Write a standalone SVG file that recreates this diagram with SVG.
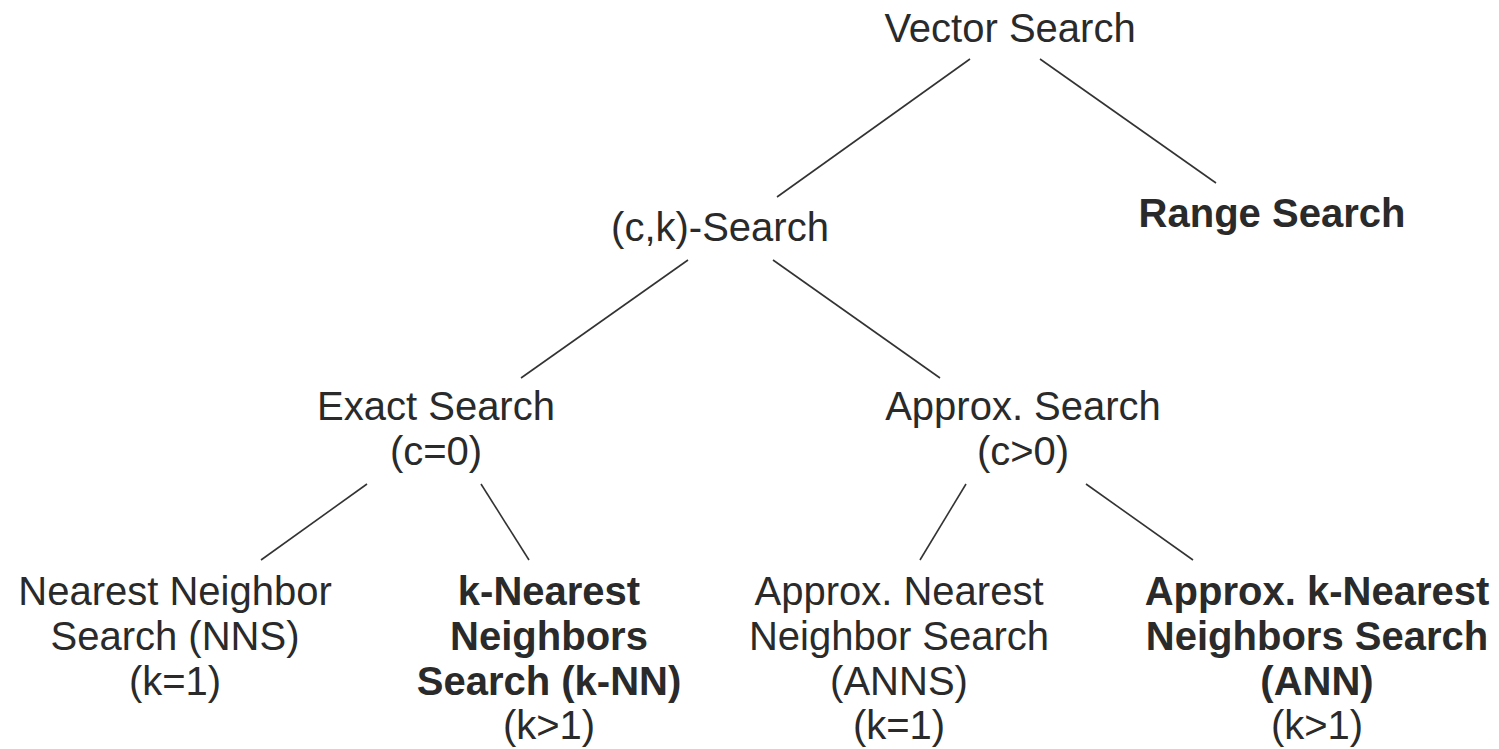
<svg xmlns="http://www.w3.org/2000/svg" width="1499" height="749" viewBox="0 0 1499 749">
<style>
text{font-family:"Liberation Sans",Arial,sans-serif;font-size:40px;fill:#2a2a2a;text-anchor:middle}
.b{font-weight:bold}
.c line{stroke:#333;stroke-width:1.6}
</style>
<rect width="1499" height="749" fill="#fff"/>
<g class="c" id="connectors">
<line x1="970" y1="59" x2="777" y2="197"/>
<line x1="1040" y1="59" x2="1216" y2="183"/>
<line x1="688" y1="260" x2="521" y2="378"/>
<line x1="773" y1="260" x2="940" y2="378"/>
<line x1="367" y1="484" x2="261" y2="560"/>
<line x1="481" y1="484" x2="529" y2="560"/>
<line x1="966" y1="484" x2="920" y2="560"/>
<line x1="1086" y1="484" x2="1193" y2="560"/>
</g>
<g id="vector-search"><text x="1010" y="42">Vector Search</text></g>
<g id="ck-search"><text x="720" y="241">(c,k)-Search</text></g>
<g id="range-search"><text class="b" x="1272" y="227">Range Search</text></g>
<g id="exact-search"><text x="436" y="420">Exact Search</text><text x="436" y="465">(c=0)</text></g>
<g id="approx-search"><text x="1023" y="420">Approx. Search</text><text x="1023" y="465">(c&gt;0)</text></g>
<g id="nns"><text x="175" y="605">Nearest Neighbor</text><text x="175" y="650">Search (NNS)</text><text x="175" y="695">(k=1)</text></g>
<g id="knn"><text class="b" x="549" y="605">k-Nearest</text><text class="b" x="549" y="650">Neighbors</text><text class="b" x="549" y="695">Search (k-NN)</text><text x="549" y="739">(k&gt;1)</text></g>
<g id="anns"><text x="899" y="605">Approx. Nearest</text><text x="899" y="650">Neighbor Search</text><text x="899" y="695">(ANNS)</text><text x="899" y="739">(k=1)</text></g>
<g id="ann"><text class="b" x="1317" y="605">Approx. k-Nearest</text><text class="b" x="1317" y="650">Neighbors Search</text><text class="b" x="1317" y="695">(ANN)</text><text x="1317" y="739">(k&gt;1)</text></g>
</svg>
